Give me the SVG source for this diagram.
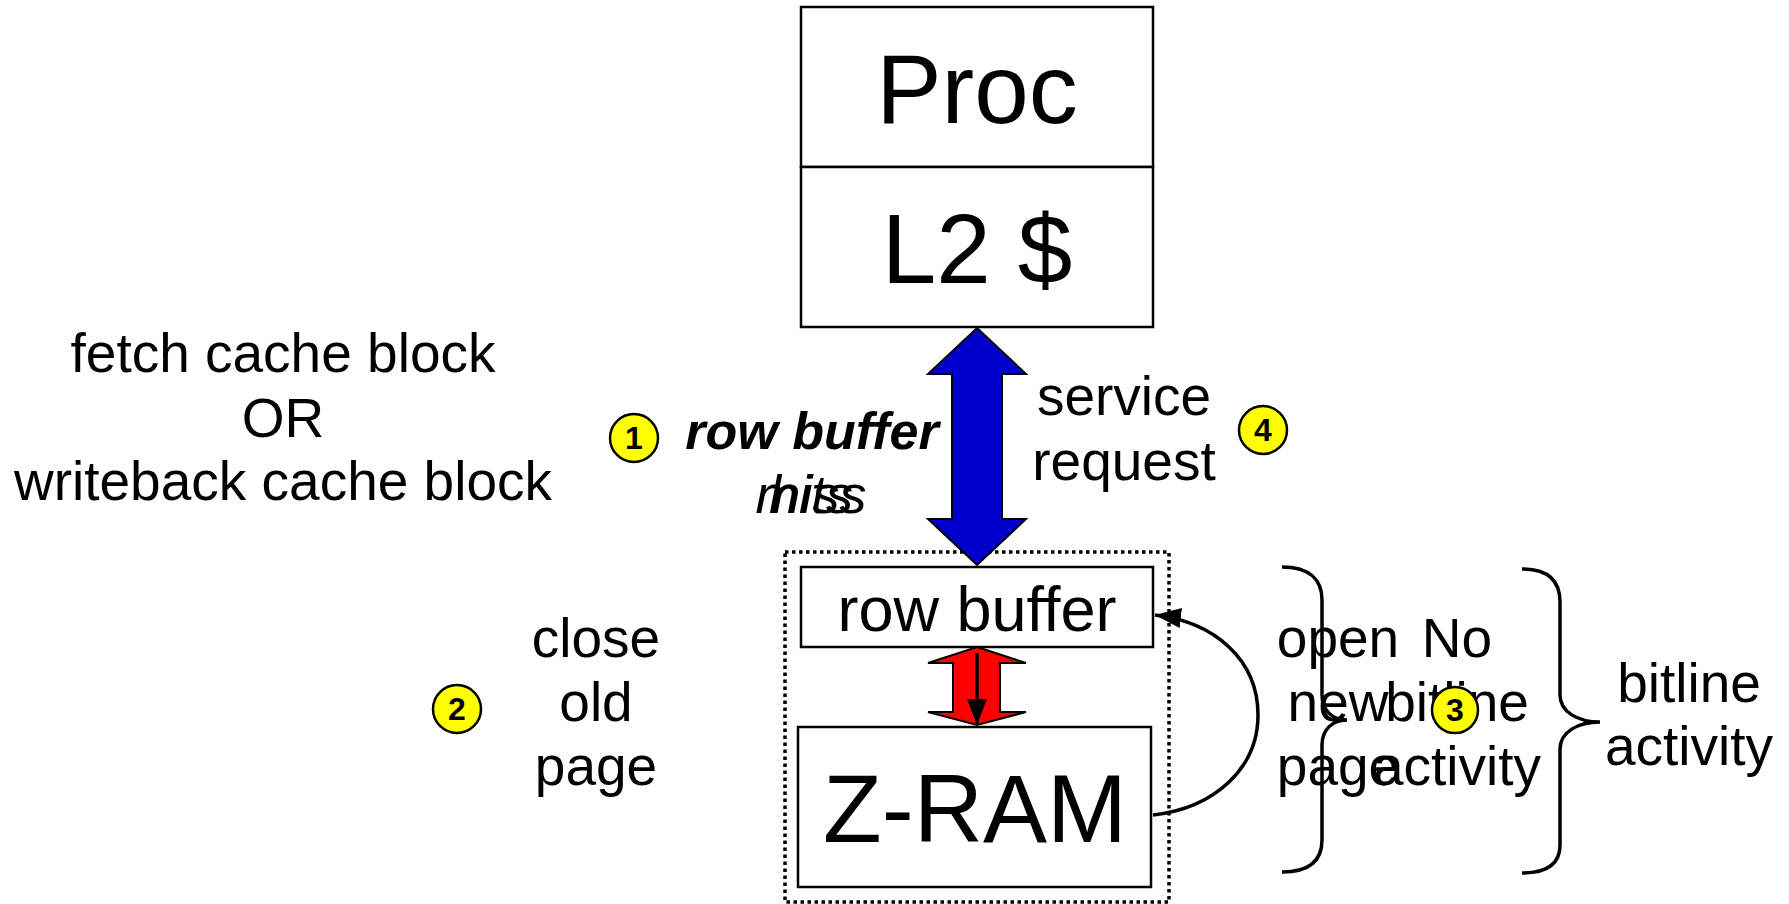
<svg xmlns="http://www.w3.org/2000/svg" width="1789" height="904" viewBox="0 0 1789 904">
<style>
text{font-family:"Liberation Sans",Arial,sans-serif;fill:#000}
.t{font-size:55px;text-anchor:middle}
.box{fill:#fff;stroke:#000;stroke-width:2.5}
.num{fill:#ff0;stroke:#000;stroke-width:2.5}
.nt{font-size:32px;font-weight:bold;text-anchor:middle}
.brace{fill:none;stroke:#000;stroke-width:3.5}
</style>
<defs>
<marker id="ah2" viewBox="0 0 26 20" refX="26" refY="10" markerWidth="26" markerHeight="20" markerUnits="userSpaceOnUse" orient="auto">
<path d="M0,0 L26,10 L0,20 z" fill="#000"/>
</marker>
</defs>
<rect width="1789" height="904" fill="#fff"/>

<g id="proc">
<rect class="box" x="801" y="7" width="352" height="160"/>
<text x="977" y="123" style="font-size:98px;text-anchor:middle">Proc</text>
</g>
<g id="l2">
<rect class="box" x="801" y="167" width="352" height="160"/>
<text x="977" y="283" style="font-size:98px;text-anchor:middle">L2 $</text>
</g>

<g id="dram-bank">
<rect x="785" y="552" width="384" height="350" fill="none" stroke="#000" stroke-width="3.5" stroke-dasharray="3.5,3.5"/>
</g>
<g id="rowbuffer">
<rect class="box" x="801" y="567" width="352" height="80"/>
<text x="977" y="631" style="font-size:63px;text-anchor:middle">row buffer</text>
</g>
<g id="zram">
<rect class="box" x="798" y="727" width="353" height="160"/>
<text x="975" y="842" style="font-size:96px;text-anchor:middle">Z-RAM</text>
</g>

<g id="connectors">
<path d="M977,328 L1026,374 L1002,374 L1002,519 L1026,519 L977,565 L928,519 L952,519 L952,374 L928,374 Z" fill="#0000cc" stroke="#000" stroke-width="2"/>
<path d="M977,647 L1026,663 L1000,663 L1000,712 L1026,712 L977,725 L928,712 L953,712 L953,663 L928,663 Z" fill="#ff0000" stroke="#000" stroke-width="2"/>
<line x1="977" y1="653" x2="977" y2="725" stroke="#000" stroke-width="3.5" marker-end="url(#ah2)"/>
<path d="M1153,815 C1215,808 1258,768 1258,715 C1258,660 1215,622 1155,615" fill="none" stroke="#000" stroke-width="3.5" marker-end="url(#ah2)"/>
</g>

<g id="label-request">
<text class="t" x="283" y="372">fetch cache block</text>
<text class="t" x="283" y="437">OR</text>
<text class="t" x="283" y="500">writeback cache block</text>
</g>

<g id="label-rowbuffer">
<text x="812" y="449" style="font-size:52px;font-weight:bold;font-style:italic;text-anchor:middle">row buffer</text>
<text x="811" y="513" style="font-size:54px;font-style:italic;text-anchor:middle">miss</text>
<text x="811" y="513" style="font-size:54px;font-style:italic;text-anchor:middle">hits</text>
</g>

<g id="label-service">
<text class="t" x="1124" y="415">service</text>
<text class="t" x="1124" y="480">request</text>
</g>

<g id="label-close">
<text class="t" x="596" y="657">close</text>
<text class="t" x="596" y="721">old</text>
<text class="t" x="596" y="785">page</text>
</g>

<g id="label-open">
<text class="t" x="1338" y="657">open</text>
<text class="t" x="1338" y="721">new</text>
<text class="t" x="1338" y="785">page</text>
</g>
<g id="label-nobitline">
<text class="t" x="1457" y="657">No</text>
<text class="t" x="1457" y="721">bitline</text>
<text class="t" x="1457" y="785">activity</text>
</g>
<g id="label-bitline">
<text class="t" x="1689" y="702">bitline</text>
<text class="t" x="1689" y="765">activity</text>
</g>

<g id="braces">
<path class="brace" d="M1282,567 C1310,567 1322,580 1322,600 L1322,695 C1322,710 1332,720 1347,720 C1332,720 1322,730 1322,745 L1322,840 C1322,860 1310,872 1282,872"/>
<path class="brace" d="M1522,569 C1550,569 1560,582 1560,602 L1560,695 C1560,712 1578,722 1600,722 C1578,722 1560,732 1560,749 L1560,845 C1560,862 1550,873 1522,873"/>
</g>

<g id="step1"><circle class="num" cx="634" cy="438" r="24"/><text class="nt" x="634" y="449">1</text></g>
<g id="step2"><circle class="num" cx="457" cy="709" r="24"/><text class="nt" x="457" y="720">2</text></g>
<g id="step3"><circle class="num" cx="1455" cy="710" r="23"/><text class="nt" x="1455" y="721">3</text></g>
<g id="step4"><circle class="num" cx="1263" cy="430" r="24"/><text class="nt" x="1263" y="441">4</text></g>
</svg>
